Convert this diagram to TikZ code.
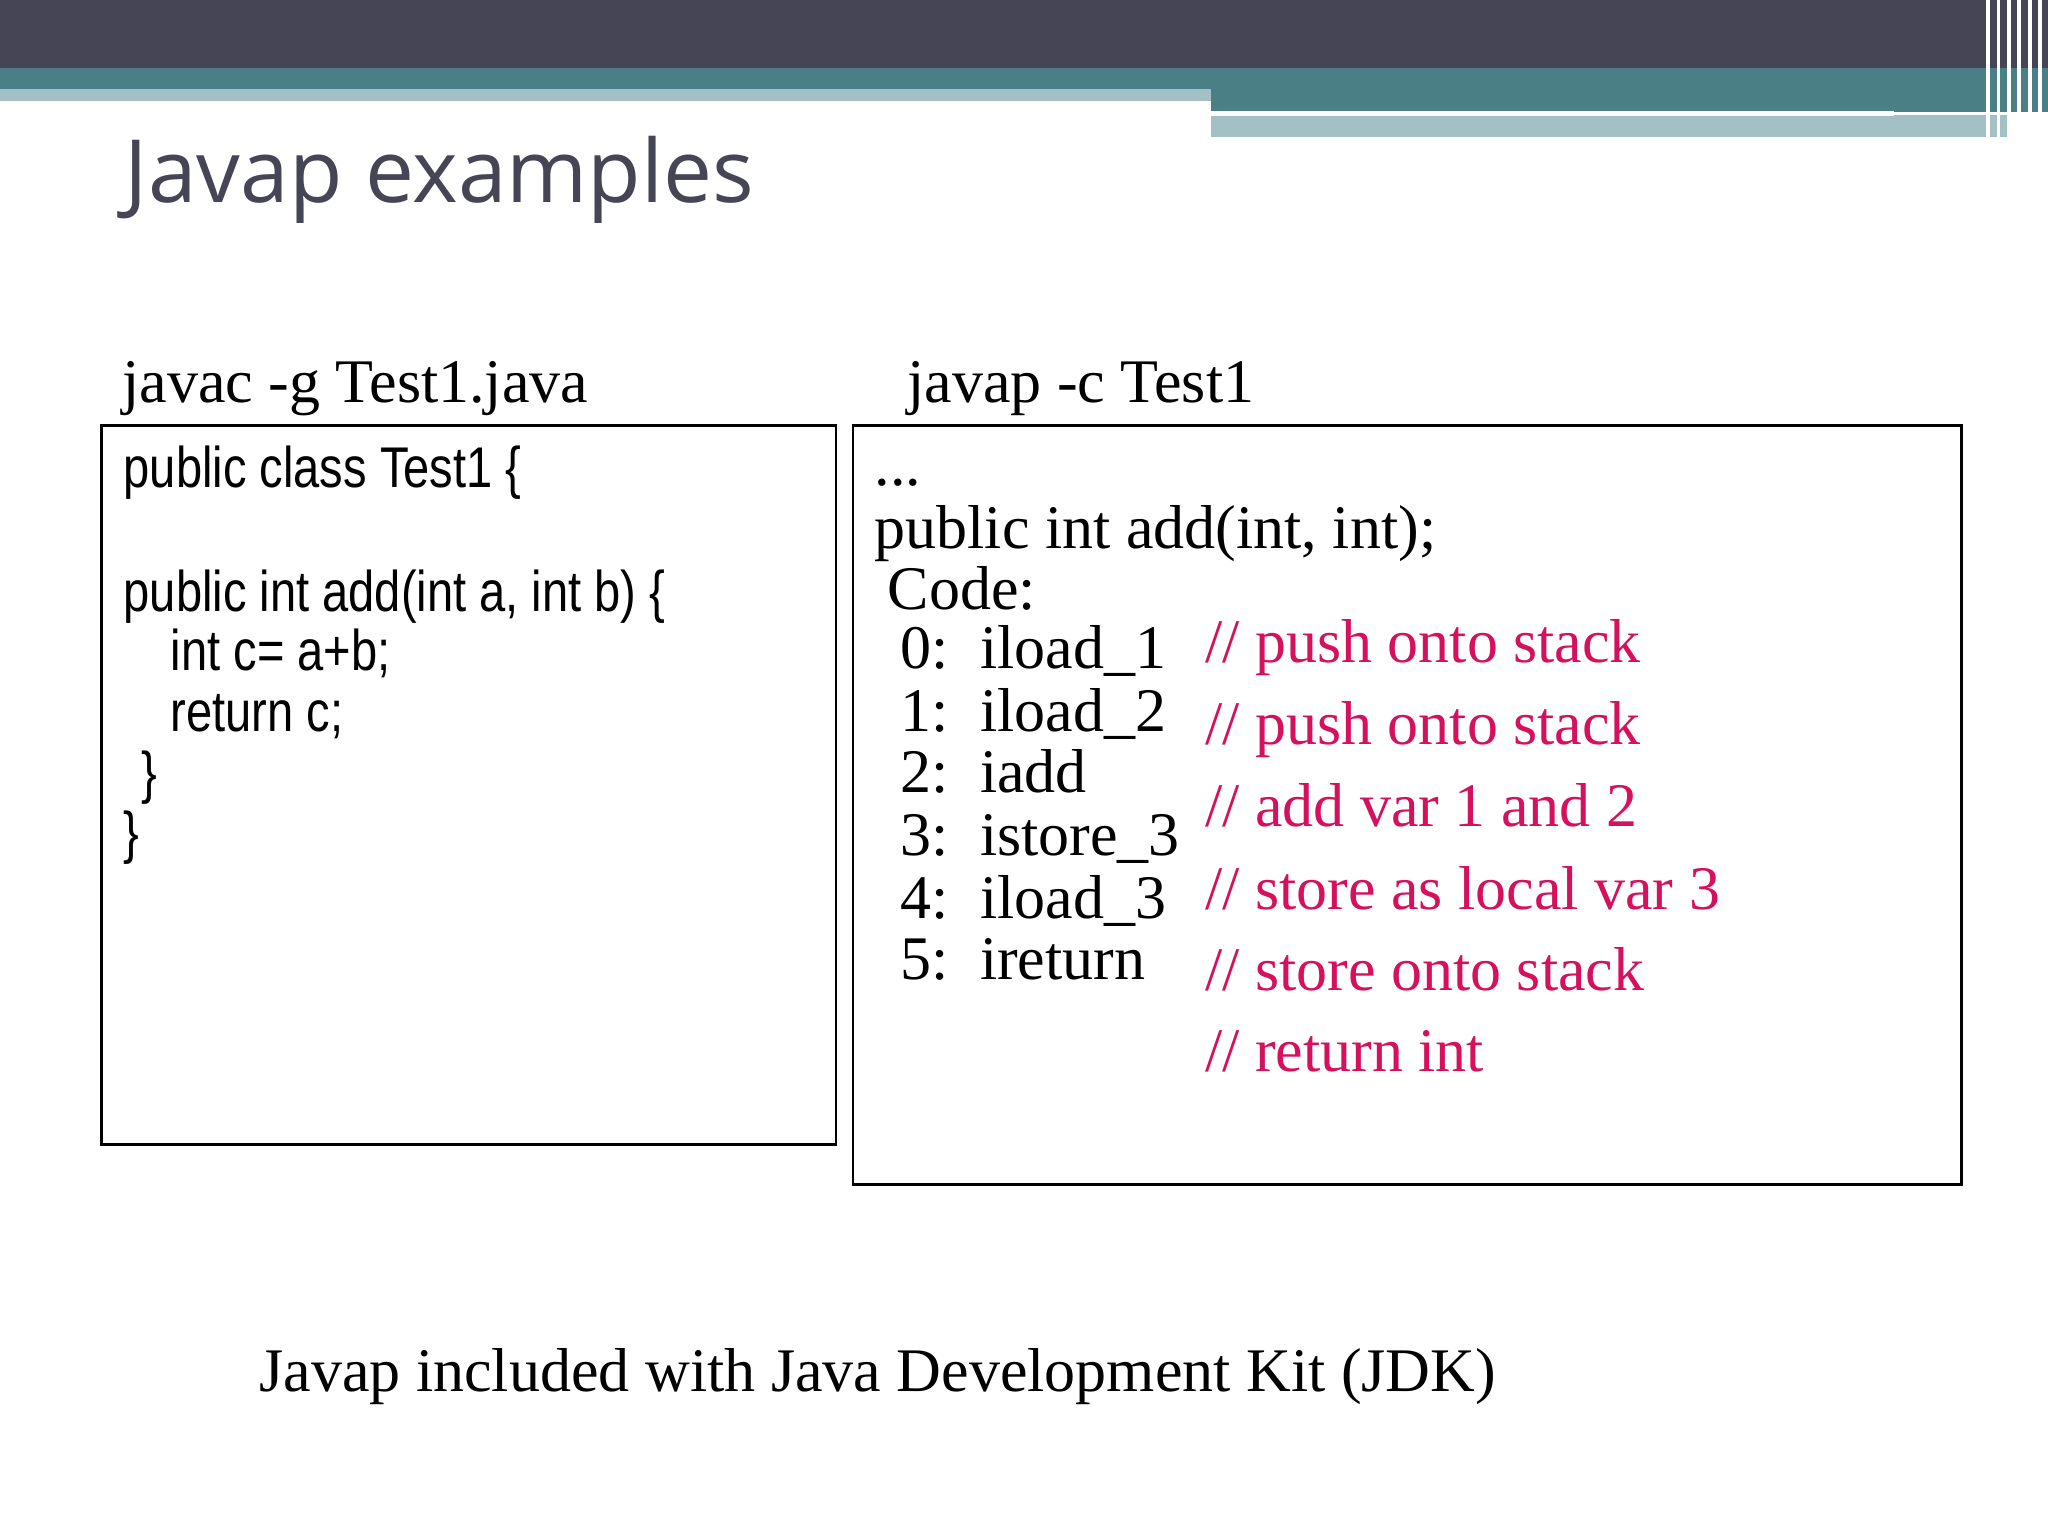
\documentclass[tikz,border=0pt]{standalone}
\usepackage{fontspec}
\setmainfont{Liberation Serif}
\newfontfamily\titlefont{Open Sans}
\newfontfamily\narrowfont[FakeStretch=0.82]{Liberation Sans}
\definecolor{dark}{HTML}{454556}
\definecolor{teal}{HTML}{4A7F86}
\definecolor{lteal}{HTML}{A3C1C4}
\definecolor{pinkc}{HTML}{D5105C}
\tikzset{px/.style={x=0.01cm,y=-0.01cm},
 lbl/.style={anchor=base west,inner sep=0,font=\fontsize{13.5}{16}\selectfont},
 codeL/.style={anchor=base west,inner sep=0,font=\narrowfont\fontsize{12.5}{15}\selectfont},
 codeR/.style={anchor=base west,inner sep=0,font=\fontsize{13.5}{16}\selectfont},
 cmt/.style={codeR,text=pinkc},
 box/.style={draw,line width=0.6pt}}
\begin{document}
\begin{tikzpicture}[px]
\useasboundingbox (0,0) rectangle (1568,1176);
\fill[dark] (0,0) rectangle (1568,52);
\fill[teal] (0,52) rectangle (1568,68);
\fill[lteal] (0,68) rectangle (927,77);
\fill[teal] (927,68) rectangle (1568,86);
\fill[lteal] (927,88) rectangle (1540,105);
\draw[white,line width=1pt] (927,87) -- (1450,87);
\foreach \x in {1522,1530,1538,1546,1554,1562} \draw[white,line width=0.8pt] (\x,0) -- (\x,105);
\node[anchor=base west,inner sep=0,text=dark,font=\titlefont\fontsize{19}{22}\selectfont] (title) at (95,155) {Javap examples};
\node[lbl] (l1) at (93,308) {javac -g Test1.java};
\node[lbl] (l2) at (694,308) {javap -c Test1};
\draw[box] (78,326) rectangle (640,876);
\draw[box] (653,326) rectangle (1502,907);
\node[codeL] (a1) at (94,373) {public class Test1 \{};
\node[codeL] (a2) at (94,468) {public int add(int a, int b) \{};
\node[codeL] (a3) at (130,513) {int c= a+b;};
\node[codeL] (a4) at (130,560) {return c;};
\node[codeL] (a5) at (108,607) {\}};
\node[codeL] (a6) at (94,653) {\}};
\node[codeR] (b0) at (669,372) {...};
\node[codeR] (b1) at (669,420) {public int add(int, int);};
\node[codeR] (b2) at (679,467) {Code:};
\node[codeR] (c0) at (689,512) {0:\ \ iload\_1};
\node[codeR] (c1) at (689,560) {1:\ \ iload\_2};
\node[codeR] (c2) at (689,607) {2:\ \ iadd};
\node[codeR] (c3) at (689,655) {3:\ \ istore\_3};
\node[codeR] (c4) at (689,703) {4:\ \ iload\_3};
\node[codeR] (c5) at (689,750) {5:\ \ ireturn};
\node[cmt] (d0) at (922,507) {// push onto stack};
\node[cmt] (d1) at (922,570) {// push onto stack};
\node[cmt] (d2) at (922,633) {// add var 1 and 2};
\node[cmt] (d3) at (922,696) {// store as local var 3};
\node[cmt] (d4) at (922,758) {// store onto stack};
\node[cmt] (d5) at (922,820) {// return int};
\node[lbl] (foot) at (198,1065) {Javap included with Java Development Kit (JDK)};
\end{tikzpicture}
\end{document}
